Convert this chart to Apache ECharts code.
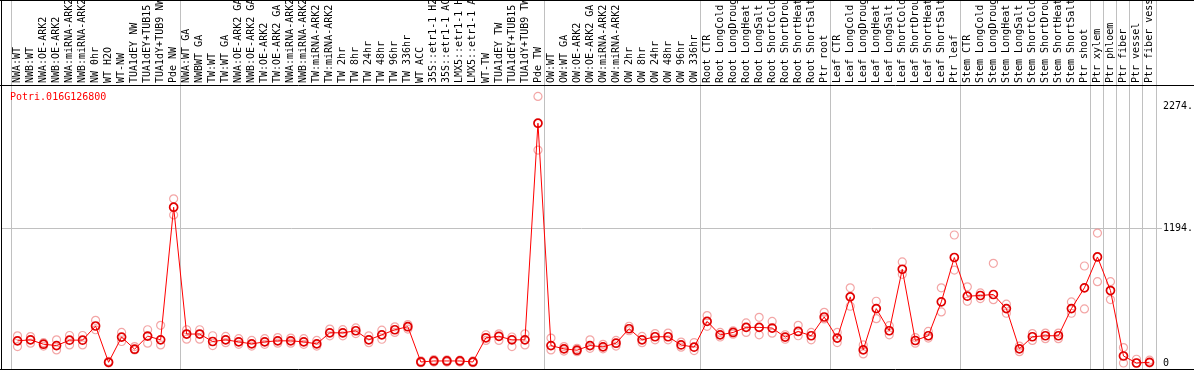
<!DOCTYPE html>
<html><head><meta charset="utf-8">
<script src="https://cdn.jsdelivr.net/npm/echarts@6/dist/echarts.min.js"></script>
<style>html,body{margin:0;padding:0;background:#fff}#c{width:1194px;height:370px}</style>
</head><body><div id="c"></div>
<script>
const categories = ['NWA:WT','NWB:WT','NWA:OE-ARK2','NWB:OE-ARK2','NWA:miRNA-ARK2','NWB:miRNA-ARK2','NW 0hr','WT H2O','WT-NW','TUA1dEY NW','TUA1dEY+TUB15 NW','TUA1dY+TUB9 NW','Pde NW',
'NWA:WT GA','NWBWT GA','TW:WT','TW:WT GA','NWA:OE-ARK2 GA','NWB:OE-ARK2 GA','TW:OE-ARK2','TW:OE-ARK2 GA','NWA:miRNA-ARK2','NWB:miRNA-ARK2','TW:miRNA-ARK2','TW:miRNA-ARK2','TW 2hr','TW 8hr','TW 24hr','TW 48hr','TW 96hr','TW 336hr','WT ACC','35S::etr1-1 H2O','35S::etr1-1 ACC','LMX5::etr1-1 H2O','LMX5::etr1-1 ACC','WT-TW','TUA1dEY TW','TUA1dEY+TUB15 TW','TUA1dY+TUB9 TW','Pde TW',
'OW:WT','OW:WT GA','OW:OE-ARK2','OW:OE-ARK2 GA','OW:miRNA-ARK2','OW:miRNA-ARK2','OW 2hr','OW 8hr','OW 24hr','OW 48hr','OW 96hr','OW 336hr',
'Root CTR','Root LongCold','Root LongDrought','Root LongHeat','Root LongSalt','Root ShortCold','Root ShortDrought','Root ShortHeat','Root ShortSalt','Ptr root',
'Leaf CTR','Leaf LongCold','Leaf LongDrought','Leaf LongHeat','Leaf LongSalt','Leaf ShortCold','Leaf ShortDrought','Leaf ShortHeat','Leaf ShortSalt','Ptr leaf',
'Stem CTR','Stem LongCold','Stem LongDrought','Stem LongHeat','Stem LongSalt','Stem ShortCold','Stem ShortDrought','Stem ShortHeat','Stem ShortSalt','Ptr shoot',
'Ptr xylem','Ptr phloem','Ptr fiber','Ptr vessel','Ptr fiber vessel'];

const meanValues = [196,205,166,154,202,202,327,6,229,122,238,205,1378,
256,256,190,205,187,169,187,196,196,187,169,267,267,285,205,249,294,321,9,18,18,18,9,223,236,205,205,2121,
154,125,113,154,143,175,303,205,232,232,160,140,
368,249,270,315,315,309,229,279,241,407,
220,585,116,481,285,829,199,241,541,933,
591,597,606,481,125,232,241,241,481,665,
938,641,62,0,6];

const repHigh = [240,234,180,205,243,243,377,15,270,145,294,333,1452,
294,294,241,235,215,200,215,225,220,215,200,300,295,310,240,290,320,340,20,30,28,25,18,250,258,230,258,2358,
220,145,130,205,165,200,325,235,260,265,185,181,
419,270,285,354,404,368,250,333,270,448,
270,665,160,546,330,894,225,279,665,1132,
674,620,882,520,150,260,265,265,540,858,
1149,719,136,33,25];

const repLow = [145,175,150,116,160,160,294,0,190,116,175,160,1310,
211,211,154,180,165,150,165,175,175,165,150,240,240,260,180,210,270,300,2,8,8,8,2,200,200,145,160,1883,
116,105,100,130,125,150,285,180,205,205,140,110,
324,230,255,270,249,264,210,241,205,390,
181,502,80,392,249,784,175,220,452,822,
546,570,560,440,100,200,215,215,440,478,
719,561,0,0,0];

const yTickValues = [0, 1194, 2274];
const geneId = 'Potri.016G126800';
const groupBreaks = [0,13,41,53,63,73,83,84,85,86,87,88];

const chart = echarts.init(document.getElementById('c'), null, {renderer:'canvas'});
const mono = 'DejaVu Sans Mono';
const repData = [];
categories.forEach((c,i)=>{
  if (repHigh[i] != null) repData.push([i, repHigh[i]]);
  if (repLow[i] != null) repData.push([i, repLow[i]]);
});

chart.setOption({
  animation:false,
  backgroundColor:'#fff',
  grid:{left:11,right:38,top:85,bottom:0,containLabel:false,outerBoundsMode:'none'},
  xAxis:{type:'category',data:categories,position:'top',boundaryGap:true,
    axisLine:{show:false},axisTick:{show:false},splitLine:{show:false},
    axisLabel:{interval:0,rotate:90,margin:2,fontFamily:mono,fontSize:10,color:'#000'}},
  yAxis:{type:'value',position:'right',min:-62,max:2459,splitLine:{show:false},
    axisLine:{show:false},axisTick:{show:false},
    axisLabel:{customValues:yTickValues,formatter:v=>v===0?'0':v+'.',fontFamily:mono,fontSize:10,color:'#000',margin:7}},
  series:[
    {type:'scatter',data:repData,symbol:'circle',symbolSize:8,silent:true,
      itemStyle:{color:'rgba(0,0,0,0)',borderColor:'#f09090',borderWidth:1.2},z:2},
    {type:'line',data:meanValues,symbol:'circle',symbolSize:8,showAllSymbol:true,
      lineStyle:{color:'#ff0000',width:1},
      itemStyle:{color:'rgba(0,0,0,0)',borderColor:'#e00000',borderWidth:1.7},z:3}
  ]
});

const x0 = chart.convertToPixel({xAxisIndex:0}, 0);
const x1 = chart.convertToPixel({xAxisIndex:0}, 1);
const w = x1 - x0;
const crisp = v => Math.round(v) + 0.5;
const g = [];
groupBreaks.forEach(b=>{
  const x = crisp(x0 - w/2 + b*w - 0.5);
  g.push({type:'line',z:0,silent:true,shape:{x1:x,y1:0,x2:x,y2:370},style:{stroke:'#c0c0c0',lineWidth:1}});
});
const yGrid = crisp(chart.convertToPixel({yAxisIndex:0}, 1194) - 0.5);
g.push({type:'line',z:0,silent:true,shape:{x1:1,y1:yGrid,x2:1162,y2:yGrid},style:{stroke:'#c0c0c0',lineWidth:1}});
const black = {stroke:'#000',lineWidth:1};
g.push({type:'line',z:5,silent:true,shape:{x1:0,y1:0.5,x2:1194,y2:0.5},style:black});
g.push({type:'line',z:5,silent:true,shape:{x1:0,y1:85.5,x2:1194,y2:85.5},style:black});
g.push({type:'line',z:5,silent:true,shape:{x1:0,y1:369.5,x2:1194,y2:369.5},style:black});
g.push({type:'line',z:5,silent:true,shape:{x1:1.5,y1:0,x2:1.5,y2:370},style:black});
g.push({type:'text',z:5,silent:true,left:10,top:92,style:{text:geneId,fill:'#ff0000',font:'10px "DejaVu Sans Mono"'}});
chart.setOption({graphic:g});
</script></body></html>
